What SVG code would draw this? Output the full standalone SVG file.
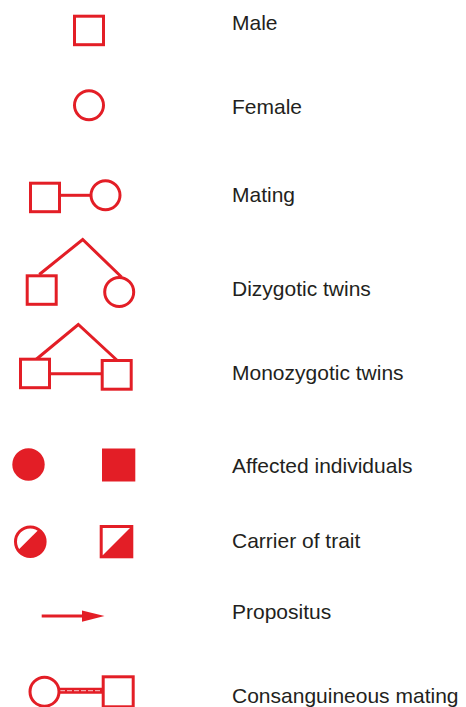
<svg xmlns="http://www.w3.org/2000/svg" width="466" height="707" viewBox="0 0 466 707">
  <style>
    .sym { fill: #ffffff; stroke: #e31e26; stroke-width: 3; }
    .solid { fill: #e31e26; stroke: none; }
    .link { fill: none; stroke: #e31e26; stroke-width: 3; stroke-linejoin: miter; }
    .label { font-family: "Liberation Sans", Arial, sans-serif; font-size: 21px; fill: #231f20; }
  </style>
  <defs>
    <clipPath id="carrier-disc">
      <circle cx="30.3" cy="541.7" r="15"/>
    </clipPath>
  </defs>
  <rect width="466" height="707" fill="#ffffff"/>

  <!-- connectors -->
  <g id="connectors">
    <line class="link" x1="60" y1="195.3" x2="91" y2="195.3"/>
    <polyline class="link" points="39.3,274.5 82.7,239.5 121.5,277"/>
    <polyline class="link" points="36,359.5 78.3,324.5 117.3,360.5"/>
    <line class="link" x1="50" y1="373.8" x2="102" y2="373.8"/>
    <line x1="59" y1="690.7" x2="103" y2="690.7" stroke="#e31e26" stroke-width="6"/>
    <line x1="60" y1="690.7" x2="102" y2="690.7" stroke="#ffffff" stroke-width="1" stroke-dasharray="5 2" opacity="0.75"/>
  </g>

  <!-- Male -->
  <g id="male">
    <rect class="sym" x="74.5" y="16.2" width="29" height="28.5"/>
    <text class="label" x="232" y="30">Male</text>
  </g>

  <!-- Female -->
  <g id="female">
    <circle class="sym" cx="89" cy="105.3" r="14.5"/>
    <text class="label" x="232" y="114.3">Female</text>
  </g>

  <!-- Mating -->
  <g id="mating">
    <rect class="sym" x="30.5" y="183.2" width="29" height="28.5"/>
    <circle class="sym" cx="105.5" cy="195.3" r="14.5"/>
    <text class="label" x="232" y="201.7">Mating</text>
  </g>

  <!-- Dizygotic twins -->
  <g id="dizygotic">
    <rect class="sym" x="27.2" y="275.8" width="29" height="28.5"/>
    <circle class="sym" cx="119.2" cy="292" r="14.5"/>
    <text class="label" x="232" y="296">Dizygotic twins</text>
  </g>

  <!-- Monozygotic twins -->
  <g id="monozygotic">
    <rect class="sym" x="20.5" y="359.2" width="29" height="28.5"/>
    <rect class="sym" x="102.2" y="360.5" width="29" height="28.7"/>
    <text class="label" x="232" y="380">Monozygotic twins</text>
  </g>

  <!-- Affected individuals -->
  <g id="affected">
    <circle class="solid" cx="28.5" cy="464.5" r="16.2"/>
    <rect class="solid" x="102" y="448.5" width="33.3" height="33"/>
    <text class="label" x="232" y="472.7">Affected individuals</text>
  </g>

  <!-- Carrier of trait -->
  <g id="carrier">
    <circle class="sym" cx="30.3" cy="541.7" r="14.8"/>
    <polygon class="solid" clip-path="url(#carrier-disc)" points="50,518.3 50,560 8.3,560"/>
    <rect class="sym" x="101.2" y="526.5" width="30.6" height="30.3"/>
    <polygon class="solid" points="132,526 132,557 101,557"/>
    <text class="label" x="232" y="548.3">Carrier of trait</text>
  </g>

  <!-- Propositus -->
  <g id="propositus">
    <line class="link" x1="41.7" y1="615.9" x2="85" y2="615.9"/>
    <polygon class="solid" points="82,610.5 104.5,616 82,621.7"/>
    <text class="label" x="232" y="618.5">Propositus</text>
  </g>

  <!-- Consanguineous mating -->
  <g id="consanguineous">
    <circle class="sym" cx="44.5" cy="691.7" r="14.5"/>
    <rect class="sym" x="103.2" y="676.8" width="30" height="30"/>
    <text class="label" x="232" y="702.5">Consanguineous mating</text>
  </g>
</svg>
